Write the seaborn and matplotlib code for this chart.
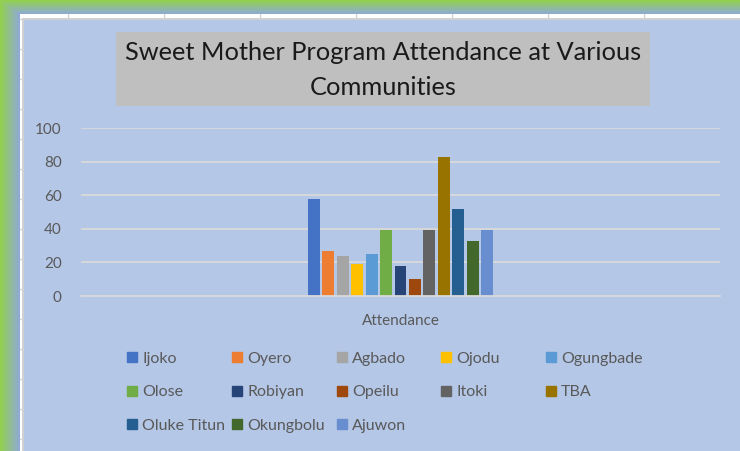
import numpy as np
import pandas as pd
import seaborn as sns
import matplotlib.pyplot as plt
from matplotlib.patches import Rectangle, Patch

# data
communities = ['Ijoko', 'Oyero', 'Agbado', 'Ojodu', 'Ogungbade', 'Olose', 'Robiyan',
               'Opeilu', 'Itoki', 'TBA', 'Oluke Titun', 'Okungbolu', 'Ajuwon']
attendance = [58, 27, 24, 19, 25, 39, 18, 10, 39, 83, 52, 33, 39]
bar_colors = ['#4472C4', '#ED7D31', '#A5A5A5', '#FFC000', '#5B9BD5', '#70AD47', '#264478',
              '#9E480E', '#636363', '#997300', '#255E91', '#43682B', '#698ED0']
category = 'Attendance'
yticks = [0, 20, 40, 60, 80, 100]
title = 'Sweet Mother Program Attendance at Various\nCommunities'

df = pd.DataFrame({'category': category, 'community': communities, 'attendance': attendance})

sns.set_style('white')
plt.rcParams['font.family'] = ['Lato', 'DejaVu Sans']

W, H = 740, 451
fig = plt.figure(figsize=(W / 100, H / 100), dpi=100)

# spreadsheet-ish backdrop: green/blue glow, white cell strip, chart area
bg = fig.add_axes([0, 0, 1, 1])
bg.set_axis_off()
yy, xx = np.mgrid[0:H, 0:W]
t = np.clip(np.minimum(xx / 20, yy / 14), 0, 1)[..., None]
green = np.array([0x92, 0xD0, 0x50]) / 255
blue = np.array([0x8E, 0xA9, 0xDB]) / 255
bg.imshow(green * (1 - t) + blue * t, extent=(0, W, H, 0), aspect='auto')
bg.set_xlim(0, W)
bg.set_ylim(H, 0)
bg.add_patch(Rectangle((20, 14), W, H, color='white', lw=0))
for x in range(68, W, 96):
    bg.plot([x, x], [14, 18], color='#d4d4d4', lw=1)
for y in range(19, H, 30):
    bg.plot([20, 23], [y, y], color='#d4d4d4', lw=1)
bg.add_patch(Rectangle((22, 18), W, H, color='#d0d0d0', lw=0))
bg.add_patch(Rectangle((24, 20), W, H, color='#B4C7E7', lw=0))
bg.add_patch(Rectangle((116, 32), 534, 74, color='#BFBFBF', lw=0))
bg.text(383, 70, title, ha='center', va='center', fontsize=18.3, color='#1a1a1a',
        linespacing=1.6)

# plot area
ax = fig.add_axes([81 / W, (H - 296) / H, (720 - 81) / W, 168 / H])
ax.patch.set_alpha(0)
sns.barplot(data=df, x='category', y='attendance', hue='community', palette=bar_colors,
            width=0.294, gap=0.17, saturation=1, legend=False, linewidth=0, ax=ax)
ax.set_ylim(0, 100)
ax.set_yticks(yticks)
ax.set_xlabel('')
ax.set_ylabel('')
ax.grid(axis='y', color='#d9d9d9', lw=1.3)
ax.set_axisbelow(True)
for s in ['top', 'right', 'left']:
    ax.spines[s].set_visible(False)
ax.spines['bottom'].set_color('#d9d9d9')
ax.spines['bottom'].set_linewidth(1.3)
ax.tick_params(axis='y', length=0, pad=14, labelcolor='#595959', labelsize=11)
ax.tick_params(axis='x', length=0, pad=13, labelcolor='#595959', labelsize=11)

# legend laid out in equal-width columns like Excel
col_x = [127, 232, 337, 441, 546]
for j, x0 in enumerate(col_x):
    idx = list(range(j, len(communities), 5))
    handles = [Patch(color=bar_colors[i]) for i in idx]
    labels = [communities[i] for i in idx]
    fig.legend(handles, labels, loc='upper left', bbox_to_anchor=(x0 / W, 1 - 352 / H),
               frameon=False, fontsize=11.5, labelcolor='#595959', borderpad=0,
               borderaxespad=0, handlelength=0.6, handleheight=0.6, handletextpad=0.35,
               labelspacing=1.22)

fig.savefig('out.png', dpi=100)
